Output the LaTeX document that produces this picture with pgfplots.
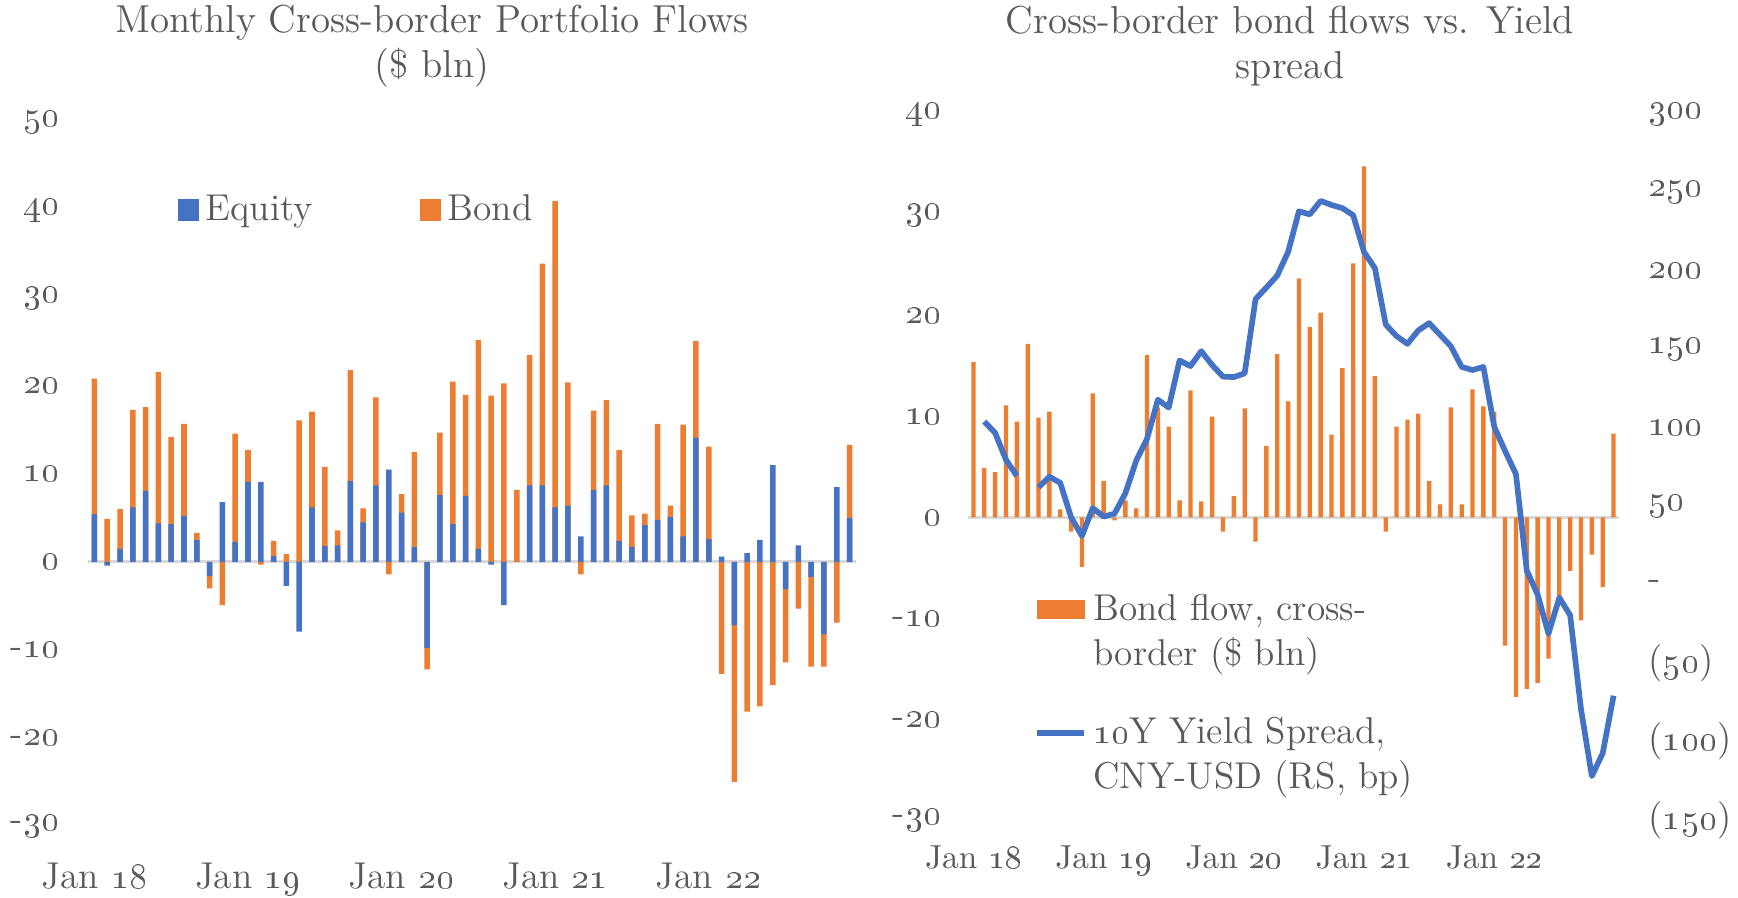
\documentclass[border=0pt]{standalone}
\usepackage{pgfplots}
\usepackage{pgfplotstable}
\pgfplotsset{compat=1.18}

\definecolor{eqblue}{HTML}{4472C4}
\definecolor{bdorange}{HTML}{ED7D31}
\definecolor{txtgray}{HTML}{595959}
\definecolor{zerogray}{HTML}{D9D9D9}

\newcommand{\osn}[1]{\oldstylenums{#1}}
\newcommand{\chartfont}{\fontsize{11.2}{13.5}\selectfont}

% m = month index (0 = Jan 18), eq/bd = equity/bond flows ($ bln), spr = 10Y spread CNY-USD (bp)
\pgfplotstableread{
m eq bd spr
0 5.45 15.4 nan
1 -0.4 4.9 104
2 1.5 4.5 96.7
3 6.2 11.1 79.6
4 8.1 9.5 69.3
5 4.4 17.2 nan
6 4.3 9.9 62
7 5.2 10.5 68.8
8 2.5 0.8 64.9
9 -1.6 -1.4 42.9
10 6.8 -4.9 31.1
11 2.3 12.3 48.8
12 9.1 3.6 43.4
13 9.1 -0.3 45.2
14 0.7 1.7 58.2
15 -2.7 0.9 79
16 -7.9 16.1 92.9
17 6.2 10.9 117.9
18 1.8 9.0 112.9
19 1.9 1.7 142.9
20 9.2 12.6 139.3
21 4.5 1.6 148.8
22 8.7 10.0 140
23 10.5 -1.4 132.6
24 5.6 2.1 132.3
25 1.7 10.8 134.7
26 -9.8 -2.4 182
27 7.6 7.1 189.4
28 4.3 16.2 197
29 7.5 11.5 212
30 1.5 23.7 238
31 -0.3 18.9 236
32 -4.9 20.3 244.6
33 0 8.2 242
34 8.7 14.8 240
35 8.7 25.2 235.5
36 6.2 34.8 212
37 6.4 14.0 201.8
38 2.9 -1.4 165.8
39 8.2 9.0 158.4
40 8.7 9.7 153.5
41 2.4 10.3 162
42 1.7 3.6 166.7
43 4.2 1.3 159.3
44 4.8 10.9 152
45 5.1 1.3 138.8
46 2.9 12.7 136.8
47 14.1 11.0 138.8
48 2.6 10.5 100.7
49 0.6 -12.7 85.2
50 -7.2 -17.8 70.5
51 1.0 -17.0 9
52 2.5 -16.4 -6.3
53 11.0 -14.0 -31.2
54 -3.1 -8.3 -8.3
55 1.9 -5.3 -19.5
56 -1.7 -10.2 -79.5
57 -8.2 -3.7 -122
58 8.5 -6.9 -107.4
59 5.0 8.3 -70.8
}\flows

\pgfplotsset{
  panel/.style={
    scale only axis, clip=false,
    axis line style={draw=none}, major tick length=0pt,
    xmin=-0.5, xmax=59.5,
    tick label style={text=txtgray, font=\chartfont, inner sep=0pt},
    xtick={0,12,24,36,48},
    xticklabels={Jan \osn{18},Jan \osn{19},Jan \osn{20},Jan \osn{21},Jan \osn{22}},
  },
}

\begin{document}
\begin{tikzpicture}
\path (0pt,0pt) rectangle (521.4pt,269.4pt);

% ---- left: monthly portfolio flows
\begin{axis}[panel,
  at={(26.4pt,21.6pt)}, anchor=south west, width=230.4pt, height=211.2pt,
  ymin=-30, ymax=50,
  ytick={-30,-20,...,50},
  yticklabels={-\osn{30},-\osn{20},-\osn{10},\osn{0},\osn{10},\osn{20},\osn{30},\osn{40},\osn{50}},
  yticklabel style={anchor=east, xshift=-8.4pt},
  xticklabel style={anchor=north, yshift=-10.8pt},
  legend columns=2,
  legend style={at={(0.116,0.875)}, anchor=west, draw=none, fill=none,
    inner sep=0pt, font=\chartfont, text=txtgray,
    /tikz/every even column/.append style={column sep=30pt}},
]
\addlegendimage{legend image code/.code={\fill[eqblue] (0pt,-3pt) rectangle (6pt,3pt);}}
\addlegendentry{Equity}
\addlegendimage{legend image code/.code={\fill[bdorange] (0pt,-3pt) rectangle (6pt,3pt);}}
\addlegendentry{Bond}
\addplot[zerogray, line width=0.9pt, forget plot] coordinates {(-0.5,0) (59.5,0)};
% bond sits on equity when both have the same sign, else starts at zero
\addplot[ybar, bar width=0.43, bar shift=0pt, fill=bdorange, draw=none, forget plot]
  table[x=m, y expr={\thisrow{eq}*\thisrow{bd}>0 ? \thisrow{eq}+\thisrow{bd} : \thisrow{bd}}] {\flows};
\addplot[ybar, bar width=0.43, bar shift=0pt, fill=eqblue, draw=none, forget plot]
  table[x=m, y=eq] {\flows};
\end{axis}

% ---- right: bond flows vs spread
\begin{axis}[panel,
  at={(290.4pt,23.4pt)}, anchor=south west, width=195.3pt, height=211.8pt,
  ymin=-30, ymax=40,
  ytick={-30,-20,...,40},
  yticklabels={-\osn{30},-\osn{20},-\osn{10},\osn{0},\osn{10},\osn{20},\osn{30},\osn{40}},
  yticklabel style={anchor=east, xshift=-7.8pt},
  xticklabel style={anchor=north, yshift=-7.5pt, font=\fontsize{10}{12}\selectfont},
]
\addplot[zerogray, line width=0.9pt] coordinates {(-0.5,0) (59.5,0)};
\addplot[ybar, bar width=0.4, bar shift=0pt, fill=bdorange, draw=none]
  table[x=m, y=bd] {\flows};
\end{axis}

\begin{axis}[panel,
  at={(290.4pt,23.4pt)}, anchor=south west, width=195.3pt, height=211.8pt,
  ymin=-150, ymax=300,
  xtick=\empty,
  ytick={-150,-100,...,300},
  yticklabels={(\osn{150}),(\osn{100}),(\osn{50}),-,\osn{50},\osn{100},\osn{150},\osn{200},\osn{250},\osn{300}},
  yticklabel pos=right,
  yticklabel style={anchor=west, xshift=8.7pt},
  legend style={at={(0.101,0.33)}, anchor=north west, draw=none, fill=none,
    inner sep=0pt, font=\chartfont, text=txtgray, row sep=10pt,
    cells={anchor=west, align=left}},
]
\addlegendimage{legend image code/.code={\fill[bdorange] (0pt,4.1pt) rectangle (14pt,9.5pt);}}
\addlegendentry{Bond flow, cross-\\border (\$ bln)}
\addplot[eqblue, line width=1.7pt, line join=round, unbounded coords=jump,
  legend image code/.code={\draw[eqblue, line width=1.7pt] (0pt,6.8pt) -- (14pt,6.8pt);}]
  table[x=m, y=spr] {\flows};
\addlegendentry{\osn{10}Y Yield Spread,\\CNY-USD (RS, bp)}
\end{axis}

\node[align=center, inner sep=0pt, text=txtgray, font=\fontsize{11.7}{13.5}\selectfont]
  at (129.6pt,255.5pt) {Monthly Cross-border Portfolio Flows\\(\$ bln)};
\node[align=center, inner sep=0pt, text=txtgray, font=\fontsize{11.7}{13.5}\selectfont]
  at (387pt,255.5pt) {Cross-border bond flows vs. Yield\\spread};
\end{tikzpicture}
\end{document}
